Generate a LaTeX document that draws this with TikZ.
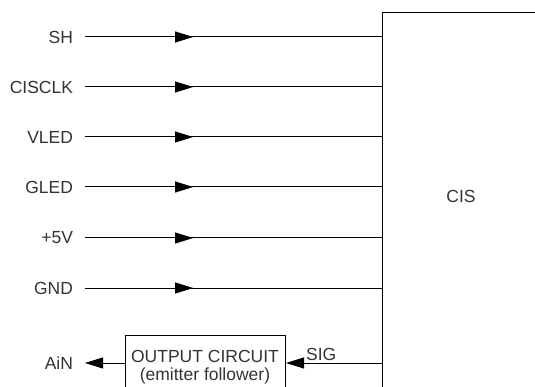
\documentclass[tikz,border=0pt]{standalone}
\usepackage{fontspec}
\setmainfont{Liberation Sans}
\usetikzlibrary{arrows.meta,decorations.markings}
\definecolor{txtgray}{HTML}{333333}
\begin{document}
\begin{tikzpicture}[x=1pt,y=-1pt,
  font=\fontsize{17.5}{19}\selectfont,
  wire/.style={line width=1pt, black},
  midarrow/.style={postaction={decorate}, decoration={markings,
    mark=at position #1 with {\arrow{Triangle[length=18pt,width=11pt]}}}},
  lbl/.style={anchor=east, inner xsep=6pt, outer xsep=6pt, inner ysep=0pt, text=txtgray},
  txt/.style={text=txtgray, inner sep=0pt},
  boxstyle/.style={draw, line width=1pt, anchor=north west, inner sep=0pt}]
\useasboundingbox (0,0) rectangle (535,387);
\clip (0,0) rectangle (535,387);
% CIS block
\node[boxstyle, minimum width=160pt, minimum height=400pt] (cis) at (382,12) {};
\node[txt] (cistext) at (461,196) {CIS};
% inputs
\node[lbl] (sh) at (85,37) {SH};
\node[lbl] (clk) at (85,87) {CISCLK};
\node[lbl] (vled) at (85,137) {VLED};
\node[lbl] (gled) at (85,187) {GLED};
\node[lbl] (p5v) at (85,238) {+5V};
\node[lbl] (gnd) at (85,288) {GND};
\foreach \n in {sh,clk,vled,gled,p5v,gnd}{
  \draw[wire, midarrow=0.364] (\n.east) -- (\n.east -| cis.west);
}
% output circuit
\node[boxstyle, minimum width=160pt, minimum height=70pt] (out) at (125,335) {};
\node[txt, align=center, font=\fontsize{17.5}{18}\selectfont] (outtext) at (205,367) {OUTPUT CIRCUIT\\(emitter follower)};
\coordinate (sigstart) at (382,363);
\draw[wire, -{Triangle[length=18pt,width=11pt]}] (sigstart) -- (out.east |- sigstart);
\node[txt, anchor=south west] (sig) at (306,361) {SIG};
\node[lbl] (ain) at (85,363) {AiN};
\draw[wire, -{Triangle[length=18pt,width=11pt]}] (out.west |- ain) -- (ain.east);
\end{tikzpicture}
\end{document}
